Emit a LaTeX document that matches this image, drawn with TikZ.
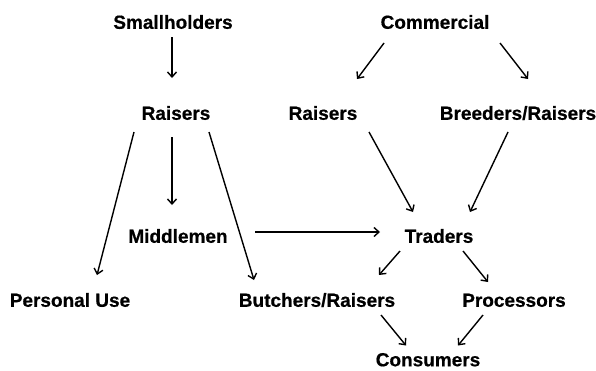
\documentclass[tikz,border=0pt]{standalone}
\usepackage{fontspec}
\setmainfont{Liberation Sans}
\newfontfamily\heavy[FakeBold=0.6]{Liberation Sans Bold}
\usetikzlibrary{arrows.meta}
\begin{document}
\begin{tikzpicture}[x=1pt,y=-1pt,
  lbl/.style={font=\heavy\fontsize{19}{22}\selectfont, inner sep=0pt, text height=13.6pt, text depth=0pt, anchor=center},
  flow/.style={line width=1.4pt, -{Straight Barb[length=5pt,width=9pt,line width=1.4pt]}}]
\useasboundingbox (0,0) rectangle (596,370);
% sources
\node[lbl] (sh)  at (173,22)  {Smallholders};
\node[lbl] (com) at (435,22)  {Commercial};
% raisers
\node[lbl] (raiL) at (176,113) {Raisers};
\node[lbl] (raiR) at (323,113) {Raisers};
\node[lbl] (bre)  at (518,113) {Breeders/Raisers};
% intermediaries
\node[lbl] (mid) at (178,236) {Middlemen};
\node[lbl] (tra) at (439,236) {Traders};
% end uses
\node[lbl] (per) at (70,300)  {Personal Use};
\node[lbl] (but) at (317,300) {Butchers/Raisers};
\node[lbl] (pro) at (514,300) {Processors};
\node[lbl] (con) at (428,359.5) {Consumers};
% flows
\draw[flow] ([shift={(-1,15)}]sh.center)   -- ([shift={(-4,-35)}]raiL.center);
\draw[flow] ([shift={(-42,19)}]raiL.center) -- ([shift={(27,-25)}]per.center);
\draw[flow] ([shift={(-4,24)}]raiL.center)  -- ([shift={(-6,-31)}]mid.center);
\draw[flow] ([shift={(33,19)}]raiL.center)  -- ([shift={(-63,-20)}]but.center);
\draw[flow] ([shift={(-51,21)}]com.center)  -- ([shift={(34,-34)}]raiR.center);
\draw[flow] ([shift={(65,21)}]com.center)   -- ([shift={(10,-34)}]bre.center);
\draw[flow] ([shift={(46,19)}]raiR.center)  -- ([shift={(-26,-24)}]tra.center);
\draw[flow] ([shift={(-10,19)}]bre.center)  -- ([shift={(31,-24)}]tra.center);
\draw[flow] ([shift={(77,-4)}]mid.center)   -- ([shift={(-59,-4)}]tra.center);
\draw[flow] ([shift={(-39,15)}]tra.center)  -- ([shift={(62,-25)}]but.center);
\draw[flow] ([shift={(24,15)}]tra.center)   -- ([shift={(-26,-18)}]pro.center);
\draw[flow] ([shift={(64,15)}]but.center)   -- ([shift={(-22,-14)}]con.center);
\draw[flow] ([shift={(-31,15)}]pro.center)  -- ([shift={(30,-14)}]con.center);
\end{tikzpicture}
\end{document}
